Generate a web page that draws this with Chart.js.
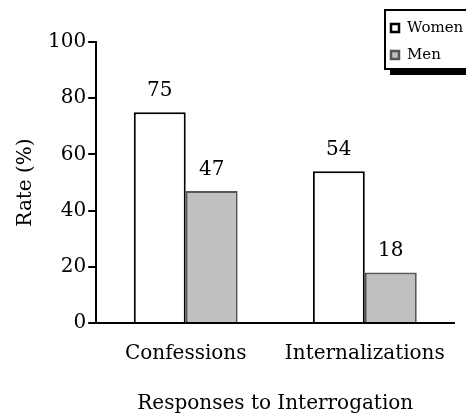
<!DOCTYPE html>
<html>
<head>
<meta charset="utf-8">
<script src="https://cdn.jsdelivr.net/npm/chart.js@4"></script>
<style>
  html, body { margin: 0; padding: 0; background: #fff; }
  #wrap { width: 466px; height: 416px; }
</style>
</head>
<body>
<div id="wrap"><canvas id="chart" width="466" height="416"></canvas></div>
<script>
// -----------------------
// Data
// -----------------------
const categories = ['Confessions', 'Internalizations'];
const womenRates = [75, 54];
const menRates = [47, 18];
const yTicks = [0, 20, 40, 60, 80, 100];

const FONT = "'DejaVu Serif', serif";

// -----------------------
// Value labels above bars
// -----------------------
const valueLabels = {
  id: 'valueLabels',
  afterDatasetsDraw(chart) {
    const ctx = chart.ctx;
    ctx.save();
    ctx.font = '20px ' + FONT;
    ctx.fillStyle = '#000';
    ctx.textAlign = 'center';
    ctx.textBaseline = 'alphabetic';
    chart.data.datasets.forEach((ds, i) => {
      chart.getDatasetMeta(i).data.forEach((bar, j) => {
        ctx.fillText(String(ds.data[j]), bar.x, bar.y - 16);
      });
    });
    ctx.restore();
  }
};

// -----------------------
// Boxed legend with drop shadow
// -----------------------
const boxLegend = {
  id: 'boxLegend',
  afterDraw(chart) {
    const ctx = chart.ctx;
    const x = 385, y = 10, w = 86, h = 59;
    ctx.save();
    ctx.fillStyle = '#000';
    ctx.fillRect(x + 5, y + 6, w, h);
    ctx.fillStyle = '#fff';
    ctx.fillRect(x, y, w, h);
    ctx.strokeStyle = '#000';
    ctx.lineWidth = 2;
    ctx.strokeRect(x, y, w, h);
    ctx.font = '15px ' + FONT;
    ctx.textBaseline = 'middle';
    ctx.textAlign = 'left';
    chart.data.datasets.forEach((ds, i) => {
      const cy = y + 18 + i * 27;
      ctx.fillStyle = ds.backgroundColor;
      ctx.fillRect(x + 6, cy - 4, 8, 8);
      ctx.strokeStyle = ds.borderColor;
      ctx.lineWidth = 2.5;
      ctx.strokeRect(x + 6, cy - 4, 8, 8);
      ctx.fillStyle = '#000';
      ctx.fillText(ds.label, x + 22, cy);
    });
    ctx.restore();
  }
};

// -----------------------
// Chart
// -----------------------
new Chart(document.getElementById('chart').getContext('2d'), {
  type: 'bar',
  data: {
    labels: categories,
    datasets: [
      { label: 'Women', data: womenRates, backgroundColor: '#ffffff', borderColor: '#000000', borderWidth: 2 },
      { label: 'Men', data: menRates, backgroundColor: '#c0c0c0', borderColor: '#555555', borderWidth: 2 }
    ]
  },
  options: {
    responsive: false,
    animation: false,
    devicePixelRatio: 1,
    layout: { padding: { top: 42, right: 9, left: 10, bottom: 0 } },
    datasets: { bar: { categoryPercentage: 0.58, barPercentage: 1.0 } },
    plugins: { legend: { display: false }, tooltip: { enabled: false } },
    scales: {
      x: {
        grid: { display: false, drawTicks: false },
        border: { color: '#000', width: 2 },
        ticks: { color: '#000', font: { family: FONT, size: 20 }, padding: 19 },
        title: { display: true, text: 'Responses to Interrogation', color: '#000', font: { family: FONT, size: 20 }, padding: { top: 7, bottom: 0 } }
      },
      y: {
        min: 0,
        max: 100,
        afterBuildTicks: axis => { axis.ticks = yTicks.map(v => ({ value: v })); },
        grid: { drawOnChartArea: false, color: '#000', lineWidth: 2, tickLength: 8 },
        border: { color: '#000', width: 2 },
        ticks: { color: '#000', font: { family: FONT, size: 20 }, padding: 2 },
        title: { display: true, text: 'Rate (%)', color: '#000', font: { family: FONT, size: 20 }, padding: { bottom: 8 } }
      }
    }
  },
  plugins: [valueLabels, boxLegend]
});
</script>
</body>
</html>
